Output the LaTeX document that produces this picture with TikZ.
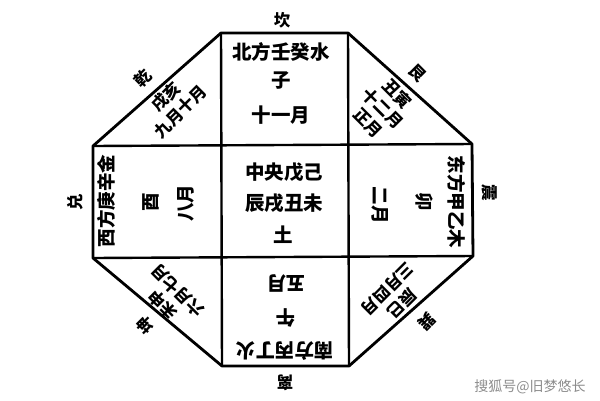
\documentclass[tikz,border=0pt]{standalone}
\usepackage{fontspec}
\setmainfont{Noto Sans CJK SC}
\begin{document}
\begin{tikzpicture}[x=1pt,y=-1pt,
  lbl/.style={inner sep=0pt, font=\fontsize{19.5}{22}\selectfont\bfseries, align=center},
  sidelbl/.style={inner sep=0pt, font=\fontsize{18.5}{22}\selectfont\bfseries, align=center},
  clbl/.style={inner sep=0pt, font=\fontsize{16.5}{20.5}\selectfont\bfseries, align=center},
  outer/.style={inner sep=0pt, font=\fontsize{16.5}{20}\selectfont\bfseries},
  frame/.style={line width=2.8pt, line join=round},
  gridline/.style={line width=2.4pt},
  wm/.style={inner sep=0pt, text=black!45, font=\fontsize{14}{16}\selectfont}]
\useasboundingbox (0,0) rectangle (600,400);
% octagon vertices
\coordinate (A) at (221,33);
\coordinate (B) at (348,33);
\coordinate (C) at (472,144);
\coordinate (D) at (473,256);
\coordinate (E) at (349,366);
\coordinate (F) at (222,366);
\coordinate (G) at (93,258);
\coordinate (H) at (93,146);
\draw[gridline] (A) -- (F);
\draw[gridline] (B) -- (E);
\draw[gridline] (H) -- (C);
\draw[gridline] (G) -- (D);
\draw[frame] (A) -- (B) -- (C) -- (D) -- (E) -- (F) -- (G) -- (H) -- cycle;
% north cell
\node[lbl] (n1) at (281,52) {北方壬癸水};
\node[lbl] (n2) at (281,81) {子};
\node[lbl] (n3) at (281,115) {十一月};
% centre
\node[lbl] (c1) at (284,172) {中央戊己};
\node[lbl] (c2) at (284,203) {辰戌丑未};
\node[lbl] (c3) at (283,235) {土};
% south
\node[lbl,rotate=180] (s1) at (286,283) {五月};
\node[lbl,rotate=180] (s2) at (286,318) {午};
\node[lbl,rotate=180] (s3) at (285,351) {南方丙丁火};
% west
\node[sidelbl,rotate=90] (w1) at (106,201) {西方庚辛金};
\node[sidelbl,rotate=90] (w2) at (151,202) {酉};
\node[sidelbl,rotate=90] (w3) at (186,203) {八月};
% east
\node[sidelbl,rotate=-90] (e1) at (457,202) {东方甲乙木};
\node[sidelbl,rotate=-90] (e2) at (424,202) {卯};
\node[sidelbl,rotate=-90] (e3) at (380,205) {二月};
% corners
\node[clbl,rotate=45] (nw) at (173,104) {戌亥\\九月十月};
\node[clbl,rotate=-45] (ne) at (383,108) {丑寅\\十二月\\正月};
\node[clbl,rotate=135] (sw) at (170,298) {未申\\六月七月};
\node[clbl,rotate=225] (se) at (395,296) {辰巳\\三月四月};
% outer trigram names
\node[outer] (kan) at (282,20) {坎};
\node[outer,rotate=45] (qian) at (143,78) {乾};
\node[outer,rotate=-45] (gen) at (417,73) {艮};
\node[outer,rotate=90] (dui) at (75,202) {兑};
\node[outer,rotate=-90] (zhen) at (490,193) {震};
\node[outer,rotate=135] (kun) at (145,325) {坤};
\node[outer,rotate=225] (xun) at (427,322) {巽};
\node[outer,rotate=180] (li) at (285,383) {离};
% watermark
\node[wm] (mark) at (530,387) {搜狐号@旧梦悠长};
\end{tikzpicture}
\end{document}
